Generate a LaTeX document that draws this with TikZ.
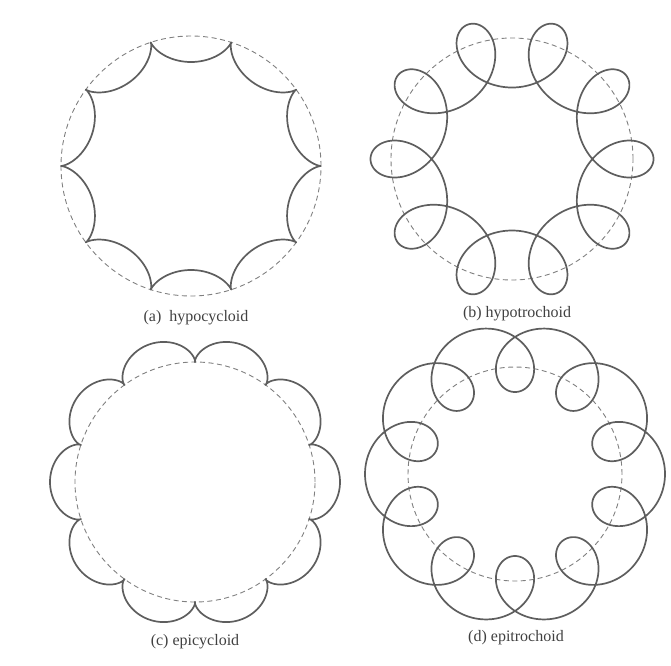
\documentclass[tikz,border=0pt]{standalone}
\usepackage{fontspec}
\setmainfont{Liberation Serif}
\usetikzlibrary{positioning}
\definecolor{inkgray}{HTML}{5E5E5E}
\definecolor{dashgray}{HTML}{808080}
\tikzset{
  refcirc/.style={draw=dashgray,line width=0.9pt,dash pattern=on 5pt off 3.5pt},
  rollcurve/.style={draw=inkgray,line width=1.7pt,line join=round,samples=1441,variable=\t,domain=0:360},
  capnode/.style={font=\fontsize{16}{19}\selectfont,text=black!75,inner sep=1pt},
}

\begin{document}
\begin{tikzpicture}[x=1pt,y=-1pt]
  \useasboundingbox (0,0) rectangle (671,665);
  % (a) hypocycloid
  \draw[refcirc] (191,166) circle[radius=130pt];
  \draw[rollcurve] plot ({191+117*cos(\t)+13*cos(9*\t)},{166+117*sin(\t)-13*sin(9*\t)});
  % (b) hypotrochoid
  \draw[refcirc] (512,159) circle[radius=121pt];
  \draw[rollcurve] plot ({512+106.5*cos(\t)+35*cos(9*\t)},{159+106.5*sin(\t)-35*sin(9*\t)});
  % (c) epicycloid
  \draw[refcirc] (195,482) circle[radius=120pt];
  \draw[rollcurve] plot ({195+132.5*cos(\t+18)-12.5*cos(11*\t+18)},{482+132.5*sin(\t+18)-12.5*sin(11*\t+18)});
  % (d) epitrochoid
  \draw[refcirc] (515,474) circle[radius=107pt];
  \draw[rollcurve] plot ({515+116*cos(\t+18)-34*cos(11*\t+18)},{474+116*sin(\t+18)-34*sin(11*\t+18)});
  % captions
  \node[capnode] (nHypoCyc) at (196,318) {(a)\ \ hypocycloid};
  \node[capnode] (nHypoTro) at (517,314) {(b) hypotrochoid};
  \node[capnode] (nEpiCyc) at (195,642) {(c) epicycloid};
  \node[capnode] (nEpiTro) at (516,638) {(d) epitrochoid};
\end{tikzpicture}
\end{document}
